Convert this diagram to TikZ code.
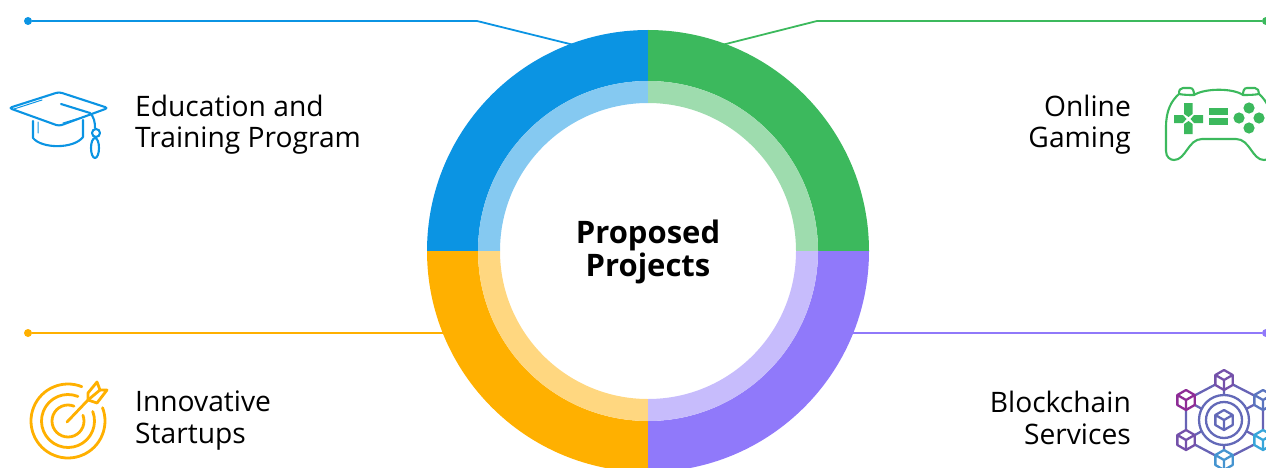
\documentclass[tikz,border=0pt]{standalone}
\usepackage{fontspec}
\setmainfont{Open Sans}
\definecolor{eduBlue}{HTML}{0B94E3}
\definecolor{gameGreen}{HTML}{3CB95D}
\definecolor{startOrange}{HTML}{FFB000}
\definecolor{chainPurple}{HTML}{9079FA}
\definecolor{netPurple}{HTML}{8E2C96}
\definecolor{netBlue}{HTML}{38A6DA}
\newcommand{\ringsector}[3]{% start angle, end angle, colour
    \fill[#3] (#1:221) arc (#1:#2:221) -- (#2:170) arc (#2:#1:170) -- cycle;
    \fill[#3!50!white] (#1:170) arc (#1:#2:170) -- (#2:148) arc (#2:#1:148) -- cycle;}
\newcommand{\netcube}[3]{% x, y, colour
    \fill[white] (#1,#2) circle (10);
    \draw[#3,line width=2.3pt,line join=round] (#1,#2+10) -- ++(-30:10) -- ++(-90:10) -- ++(-150:10) -- ++(150:10) -- ++(90:10) -- cycle
        (#1,#2) -- ++(150:10) (#1,#2) -- ++(30:10) (#1,#2) -- ++(-90:10);}
\begin{document}
\begin{tikzpicture}[x=1pt,y=1pt,
    label text/.style={font=\fontsize{28.2}{31.5}\selectfont,inner sep=0pt},
    leader/.style={line width=1.8pt},
    leader dot/.style={circle,fill,inner sep=0pt,minimum size=8pt},
    icon line/.style={line width=2.1pt,line join=round,line cap=round}]
    \useasboundingbox (0,0) rectangle (1266,467);
    \clip (0,0) rectangle (1266,467);

    % leaders
    \node[leader dot,eduBlue] (eduDot) at (28,446) {};
    \node[leader dot,gameGreen] (gameDot) at (1266,446) {};
    \node[leader dot,startOrange] (startDot) at (28,134) {};
    \node[leader dot,chainPurple] (chainDot) at (1266,134) {};
    \coordinate (eduEnd) at (590,418);
    \coordinate (gameEnd) at (706,418);
    \coordinate (startEnd) at (460,134);
    \coordinate (chainEnd) at (840,134);
    \draw[leader,eduBlue] (eduDot) -- (477,446) -- (eduEnd);
    \draw[leader,gameGreen] (gameDot) -- (817,446) -- (gameEnd);
    \draw[leader,startOrange] (startDot) -- (startEnd);
    \draw[leader,chainPurple] (chainDot) -- (chainEnd);

    % ring
    \begin{scope}[shift={(648,216)}]
        \ringsector{90}{180}{eduBlue}
        \ringsector{0}{90}{gameGreen}
        \ringsector{180}{270}{startOrange}
        \ringsector{270}{360}{chainPurple}
    \end{scope}
    \node[font=\fontsize{31}{33}\selectfont\bfseries,align=center,inner sep=0pt] (center) at (648,215.5) {Proposed\\Projects};

    % labels
    \node[label text,anchor=west,align=left] (edu) at (135,342.5) {Education and\\Training Program};
    \node[label text,anchor=east,align=right] (game) at (1131,342.5) {Online\\Gaming};
    \node[label text,anchor=west,align=left] (start) at (135,46.5) {Innovative\\Startups};
    \node[label text,anchor=east,align=right] (chain) at (1131,49) {Blockchain\\Services};

    % cap icon
    \begin{scope}[icon line,eduBlue]
        \draw[rounded corners=3pt] (9,359) -- (59,375) -- (108,359) -- (59,341) -- cycle;
        \draw (33,346) -- (33,329) .. controls (42,318) and (74,318) .. (83,330) -- (83,347);
        \draw (61,363) -- (90,354) .. controls (94,350) and (95,345) .. (95,339);
        \draw (96,334) circle (4);
        \draw (95,319) ellipse (4 and 10);
        \draw[line width=1pt] (14,358) -- (42,367) (63,344) -- (83,350) (38,345) -- (38,334);
    \end{scope}

    % controller icon
    \begin{scope}[icon line,gameGreen]
        \draw (1179,373) .. controls (1171,366) and (1166,356) .. (1166,340)
            -- (1166,316) .. controls (1166,310) and (1170,307) .. (1174,307)
            .. controls (1186,307) and (1188,328) .. (1202,328)
            -- (1236,328) .. controls (1250,328) and (1252,307) .. (1264,307)
            .. controls (1268,307) and (1272,310) .. (1272,316);
        \draw (1179,373) .. controls (1184,372) and (1189,372) .. (1194,372)
            .. controls (1205,379) and (1233,379) .. (1243,372)
            .. controls (1248,372) and (1254,372) .. (1259,373)
            .. controls (1267,366) and (1272,356) .. (1272,340);
        \draw (1179,373) .. controls (1179,377) and (1180,379) .. (1183,379) -- (1190,379) .. controls (1193,379) and (1194,376) .. (1194,372);
        \draw (1243,372) .. controls (1243,376) and (1244,379) .. (1247,379) -- (1255,379) .. controls (1258,379) and (1259,376) .. (1259,373);
        \fill (1184,364) -- (1192.5,364) -- (1192.5,353) -- (1188.5,350) -- (1184,353) -- cycle;
        \fill (1184,333) -- (1192.5,333) -- (1192.5,343) -- (1188.5,346) -- (1184,343) -- cycle;
        \fill (1174,352) -- (1174,344) -- (1183,344) -- (1186.5,348) -- (1183,352) -- cycle;
        \fill (1203,352) -- (1203,344) -- (1194,344) -- (1190.5,348) -- (1194,352) -- cycle;
        \fill (1209,359) rectangle (1228,352);
        \fill (1209,349) rectangle (1228,342);
        \foreach \dx/\dy in {0/10,-10/0,10/0,0/-10}
            \fill (1249+\dx,349+\dy) circle (5.6);
    \end{scope}

    % target icon
    \begin{scope}[icon line,startOrange,line width=2.8pt]
        \draw (68,46) ++(68:37) arc (68:381:37);
        \draw (68,46) ++(68:26.5) arc (68:381:26.5);
        \draw (68,46) ++(68:16) arc (68:381:16);
        \draw (67,45) -- (88,67);
        \draw (88,67) -- (88,74) -- (97,85) -- (100,77) -- (107,77) -- (97,64) -- cycle;
        \draw (88,67) -- (100,77);
    \end{scope}

    % network icon
    \draw[netPurple!55!netBlue,line width=2.3pt] (1224,87) -- (1263,67) -- (1263,27) -- (1224,7) -- (1186,27) -- (1186,67) -- cycle;
    \draw[netPurple!55!netBlue,line width=2.3pt] (1224,87) -- (1224,72) (1186,67) -- (1202,58) (1186,27) -- (1202,36)
        (1224,7) -- (1224,22) (1263,67) -- (1246,58) (1263,27) -- (1246,36);
    \draw[netPurple!50!netBlue,line width=2.3pt] (1224,47) circle (25) (1224,47) circle (18);
    \netcube{1224}{47}{netPurple!50!netBlue}
    \netcube{1224}{87}{netPurple!70!netBlue}
    \netcube{1186}{67}{netPurple}
    \netcube{1186}{27}{netPurple!70!netBlue}
    \netcube{1224}{7}{netPurple!15!netBlue}
    \netcube{1263}{67}{netPurple!40!netBlue}
    \netcube{1263}{27}{netBlue}
\end{tikzpicture}
\end{document}
